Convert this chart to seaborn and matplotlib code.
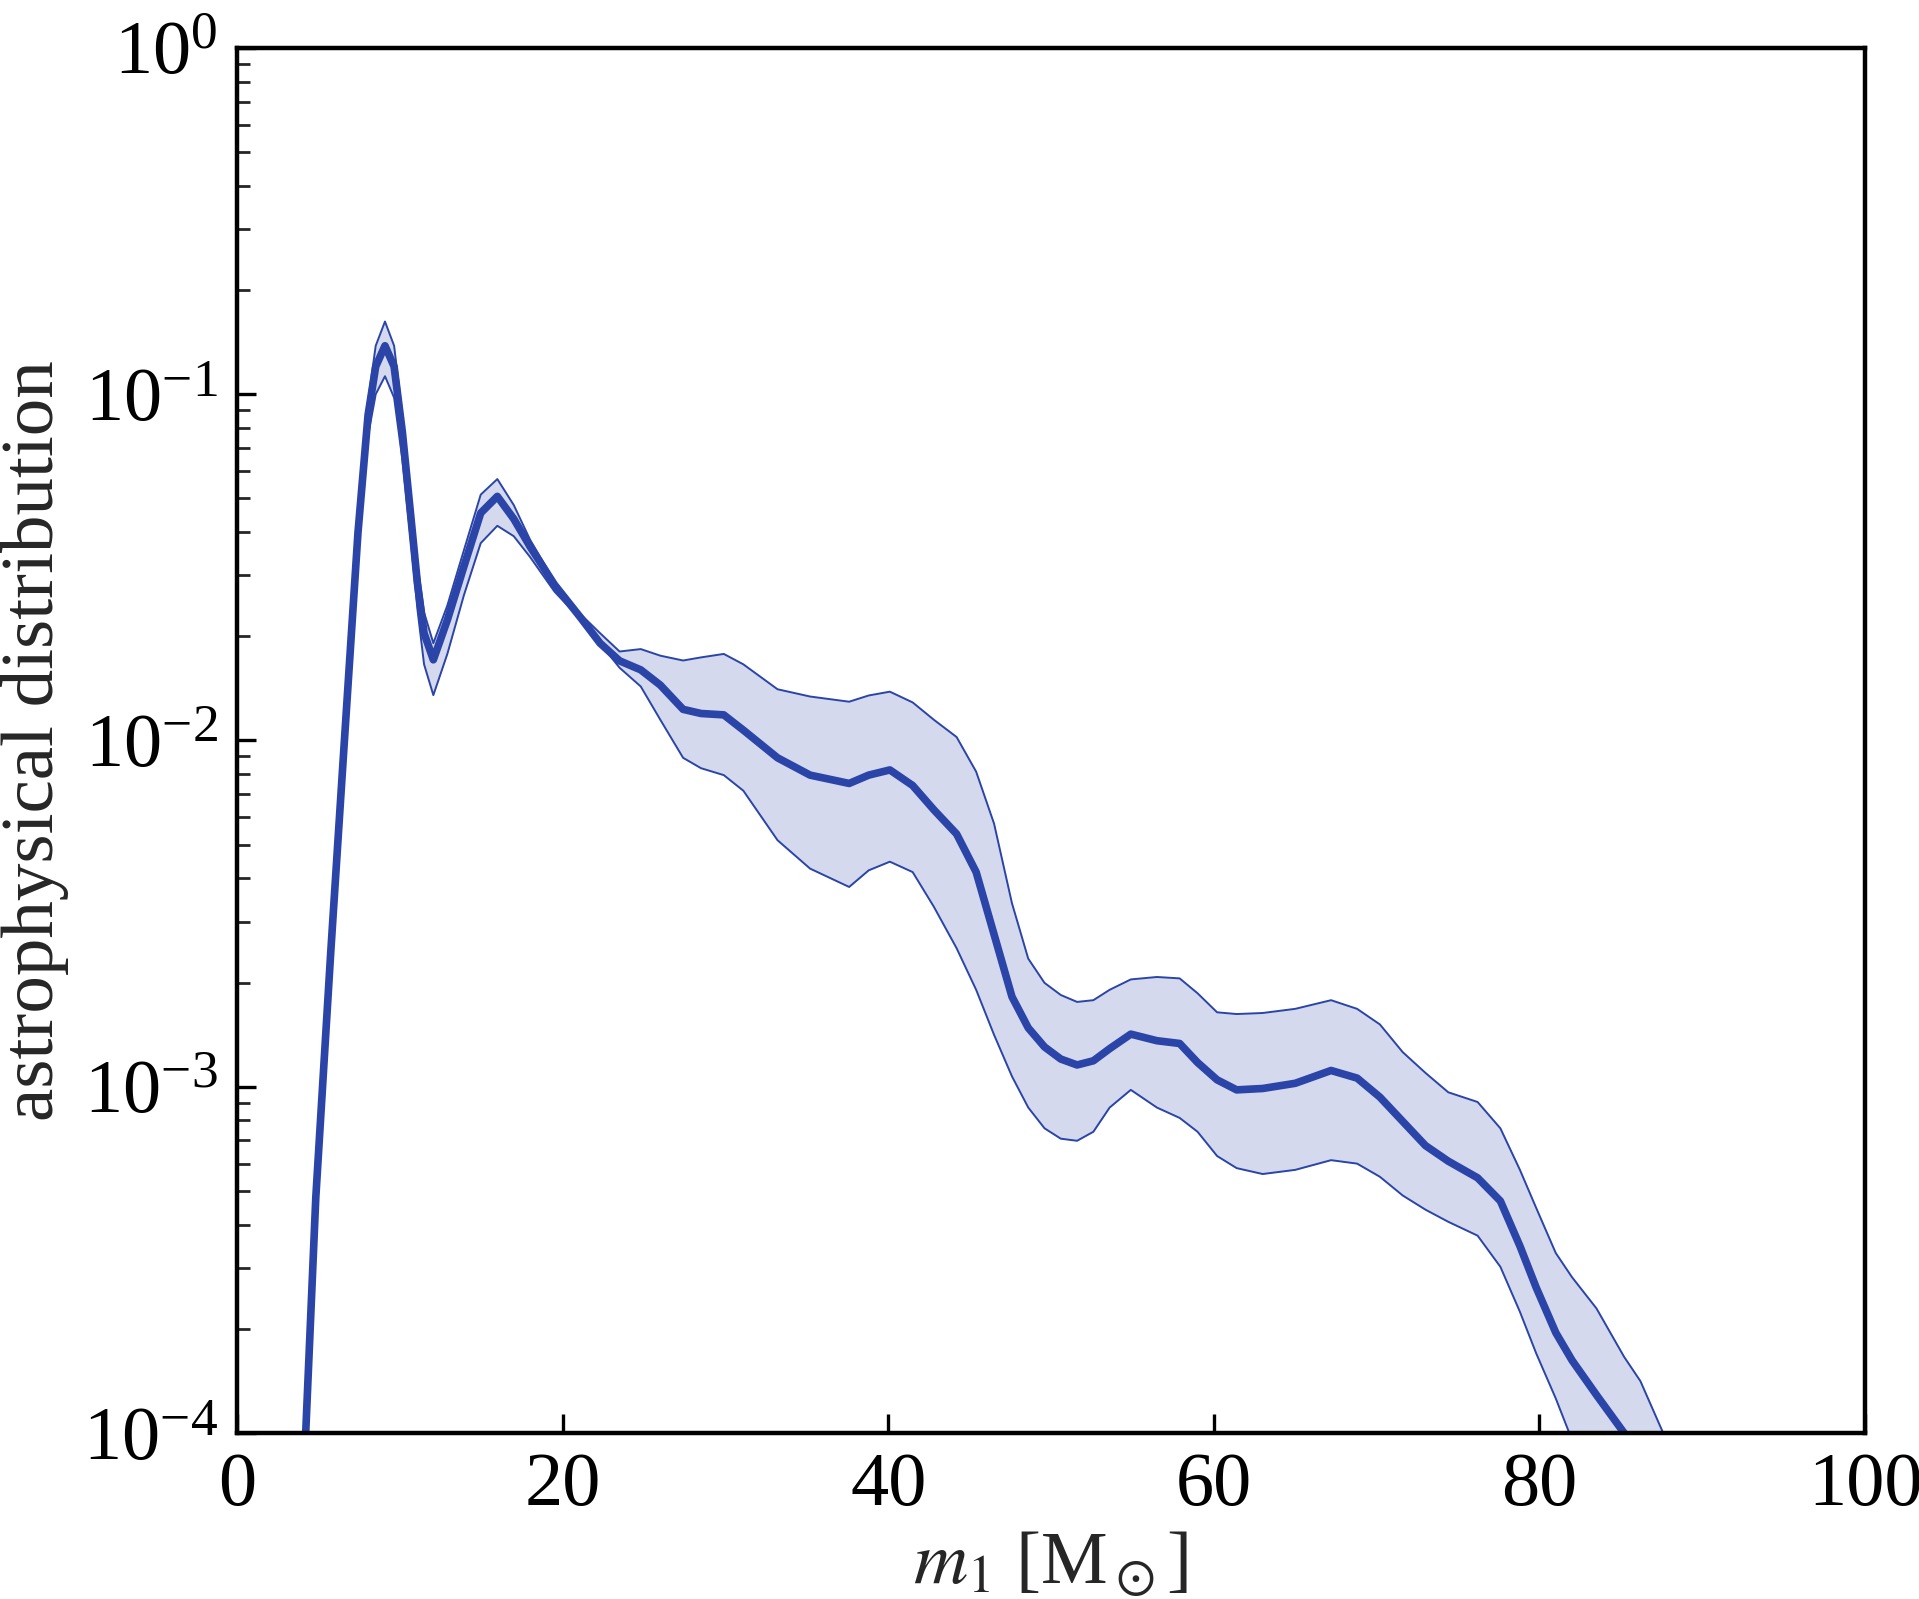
import numpy as np
import matplotlib
matplotlib.use("Agg")
import matplotlib.pyplot as plt
import matplotlib.ticker as mticker
import seaborn as sns

# -----------------------------------------------------
# data (log10 of the distribution)
# -----------------------------------------------------
m1 = [3.9, 4.22, 4.84, 5.76, 6.57, 7.43, 8.05, 8.52, 9.09, 9.65, 10.16, 10.67,
      11.08, 11.49, 12.06, 12.92, 13.94, 14.97, 15.99, 17.0, 18.0, 19.5, 21.1,
      22.3, 23.5, 24.8, 26.0, 27.4, 28.5, 29.9, 31.1, 33.2, 35.2, 37.6, 38.8,
      40.1, 41.5, 42.8, 44.2, 45.4, 46.5, 47.6, 48.6, 49.6, 50.6, 51.6, 52.6,
      53.6, 54.9, 56.5, 57.9, 59.0, 60.2, 61.4, 63.0, 65.0, 67.2, 68.8, 70.2,
      71.6, 73.0, 74.4, 76.2, 77.6, 78.8, 79.8, 81.0, 82.0, 83.5, 85.2, 86.2,
      87.6, 88.3]

log_median = [-4.25, -4.00, -3.32, -2.61, -2.02, -1.40, -1.06, -0.92, -0.86,
              -0.92, -1.11, -1.35, -1.545, -1.69, -1.767, -1.652, -1.497, -1.343,
              -1.295, -1.36, -1.44, -1.55, -1.645, -1.719, -1.77, -1.796, -1.84,
              -1.91, -1.922, -1.926, -1.97, -2.05, -2.10, -2.124, -2.10, -2.085,
              -2.13, -2.20, -2.27, -2.38, -2.56, -2.74, -2.83, -2.885, -2.92,
              -2.937, -2.925, -2.89, -2.848, -2.867, -2.875, -2.93, -2.98, -3.009,
              -3.005, -2.99, -2.953, -2.975, -3.03, -3.10, -3.17, -3.215, -3.263,
              -3.33, -3.46, -3.58, -3.71, -3.79, -3.89, -4.00, -4.08, -4.20, -4.25]

log_lower = [-4.25, -4.00, -3.32, -2.61, -2.03, -1.42, -1.12, -1.00, -0.948,
             -1.01, -1.19, -1.42, -1.62, -1.78, -1.869, -1.75, -1.58, -1.43,
             -1.38, -1.41, -1.47, -1.57, -1.65, -1.72, -1.79, -1.844, -1.94,
             -2.05, -2.08, -2.10, -2.145, -2.288, -2.37, -2.423, -2.375, -2.35,
             -2.38, -2.48, -2.60, -2.72, -2.85, -2.97, -3.06, -3.12, -3.15,
             -3.156, -3.13, -3.06, -3.009, -3.06, -3.09, -3.13, -3.20, -3.235,
             -3.252, -3.24, -3.212, -3.222, -3.26, -3.314, -3.355, -3.39, -3.43,
             -3.52, -3.65, -3.77, -3.90, -4.02, -4.25, -4.5, -4.6, -4.7, -4.8]

log_upper = [-4.25, -4.00, -3.32, -2.60, -2.01, -1.38, -1.02, -0.86, -0.79,
             -0.86, -1.06, -1.30, -1.49, -1.63, -1.719, -1.61, -1.45, -1.29,
             -1.245, -1.32, -1.42, -1.54, -1.635, -1.69, -1.743, -1.736, -1.755,
             -1.769, -1.76, -1.75, -1.78, -1.852, -1.873, -1.888, -1.87, -1.859,
             -1.89, -1.94, -1.99, -2.09, -2.24, -2.47, -2.63, -2.70, -2.735,
             -2.755, -2.75, -2.72, -2.69, -2.683, -2.687, -2.73, -2.785, -2.79,
             -2.787, -2.775, -2.75, -2.775, -2.82, -2.90, -2.96, -3.016, -3.044,
             -3.12, -3.24, -3.35, -3.48, -3.55, -3.64, -3.78, -3.85, -4.00, -4.12]

x_ticks = [0, 20, 40, 60, 80, 100]

median = 10 ** np.array(log_median)
lower = 10 ** np.array(log_lower)
upper = 10 ** np.array(log_upper)

# -----------------------------------------------------
# style
# -----------------------------------------------------
sns.set_theme(style="white")
plt.rcParams['font.family'] = ['Liberation Serif', 'STIXGeneral', 'DejaVu Serif']
plt.rcParams['mathtext.fontset'] = 'stix'
plt.rcParams['axes.linewidth'] = 3.2
plt.rcParams['axes.edgecolor'] = 'black'
plt.rcParams['lines.solid_joinstyle'] = 'round'
plt.rcParams['lines.solid_capstyle'] = 'round'

blue = '#2a44a8'

fig, ax = plt.subplots(figsize=(19.19, 15.99), dpi=100)
fig.subplots_adjust(left=0.1235, right=0.9719, top=0.970, bottom=0.1038)

# -----------------------------------------------------
# band + median
# -----------------------------------------------------
ax.fill_between(m1, lower, upper, color=blue, alpha=0.2, linewidth=0)
sns.lineplot(x=m1, y=lower, ax=ax, color=blue, linewidth=1.4, sort=False)
sns.lineplot(x=m1, y=upper, ax=ax, color=blue, linewidth=1.4, sort=False)
sns.lineplot(x=m1, y=median, ax=ax, color=blue, linewidth=5.5, sort=False)

ax.set_yscale('log')
ax.set_xlim(0, 100)
ax.set_ylim(1e-4, 1)
ax.set_xticks(x_ticks)
ax.yaxis.set_minor_locator(mticker.LogLocator(base=10, subs=np.arange(2, 10)))
ax.yaxis.set_minor_formatter(mticker.NullFormatter())
ax.xaxis.set_minor_locator(mticker.NullLocator())

ax.tick_params(which='major', direction='in', length=14, width=2.4,
               labelsize=55, pad=14, colors='black')
ax.tick_params(which='minor', direction='in', length=9, width=2.0)
ax.tick_params(which='both', top=False, right=False, left=True, bottom=True)

ax.set_xlabel(r'$m_1$ [M$_\odot$]', fontsize=54, labelpad=6)
ax.set_ylabel('astrophysical distribution', fontsize=54, labelpad=10)

plt.savefig('out.png', dpi=100)
